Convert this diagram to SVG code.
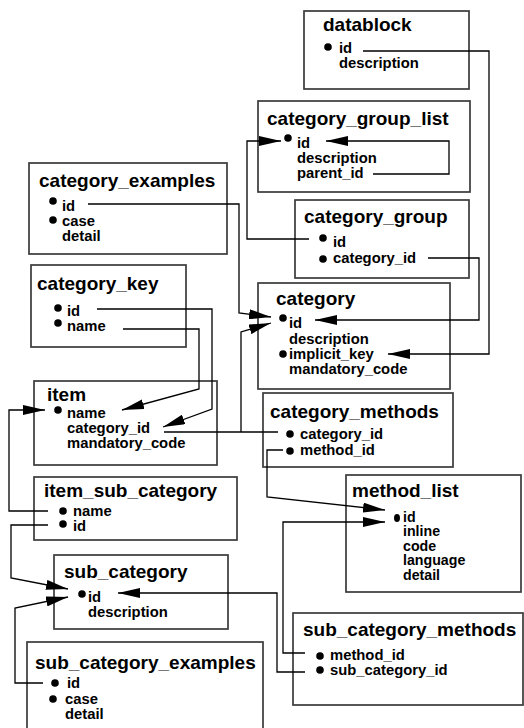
<svg xmlns="http://www.w3.org/2000/svg" width="524" height="728" viewBox="0 0 524 728">
<defs>
<style>
.box{fill:#fff;stroke:#3a3a3a;stroke-width:1.7}
.t{font-family:"Liberation Sans",Arial,Helvetica,sans-serif;font-weight:bold;font-size:19px;fill:#000}
.f{font-family:"Liberation Sans",Arial,Helvetica,sans-serif;font-weight:bold;font-size:14.8px;fill:#000}
.fs{font-size:14.2px}
.b{fill:#000}
.c{fill:none;stroke:#000;stroke-width:1.3}
.a{marker-end:url(#arr)}
</style>
<marker id="arr" viewBox="0 0 22 10" refX="22" refY="5" markerWidth="22" markerHeight="10" markerUnits="userSpaceOnUse" orient="auto">
<path d="M0,0 L22,5 L0,10 z" fill="#000"/>
</marker>
</defs>

<g id="datablock">
<rect class="box" x="304" y="11" width="165" height="78"/>
<text class="t" x="323" y="31">datablock</text>
<circle class="b" cx="328" cy="47" r="3.8"/>
<text class="f" x="339" y="53">id</text>
<text class="f" x="339" y="68">description</text>
</g>

<g id="category_group_list">
<rect class="box" x="258" y="101" width="212" height="91"/>
<text class="t" x="267" y="125">category_group_list</text>
<circle class="b" cx="288" cy="138" r="3.8"/>
<text class="f" x="297" y="148">id</text>
<text class="f" x="297" y="163">description</text>
<text class="f" x="297" y="178">parent_id</text>
</g>

<g id="category_examples">
<rect class="box" x="29" y="163" width="198" height="91"/>
<text class="t" x="39" y="187">category_examples</text>
<circle class="b" cx="53" cy="201" r="3.8"/>
<circle class="b" cx="53" cy="220" r="3.8"/>
<text class="f" x="62" y="211">id</text>
<text class="f" x="62" y="226">case</text>
<text class="f" x="62" y="241">detail</text>
</g>

<g id="category_group">
<rect class="box" x="295" y="200" width="174" height="78"/>
<text class="t" x="304" y="223">category_group</text>
<circle class="b" cx="323" cy="238" r="3.8"/>
<circle class="b" cx="323" cy="259" r="3.8"/>
<text class="f" x="333" y="247">id</text>
<text class="f" x="333" y="263">category_id</text>
</g>

<g id="category_key">
<rect class="box" x="31" y="265" width="155" height="82"/>
<text class="t" x="37" y="290">category_key</text>
<circle class="b" cx="58" cy="308" r="3.8"/>
<circle class="b" cx="58" cy="323" r="3.8"/>
<text class="f" x="67" y="316">id</text>
<text class="f" x="67" y="331">name</text>
</g>

<g id="category">
<rect class="box" x="258" y="283" width="192" height="106"/>
<text class="t" x="276" y="305">category</text>
<circle class="b" cx="283" cy="318" r="3.8"/>
<circle class="b" cx="283" cy="354" r="3.8"/>
<text class="f" x="289" y="328">id</text>
<text class="f" x="289" y="344">description</text>
<text class="f" x="289" y="359">implicit_key</text>
<text class="f" x="289" y="374">mandatory_code</text>
</g>

<g id="item">
<rect class="box" x="34" y="381" width="183" height="84"/>
<text class="t" x="47" y="401">item</text>
<circle class="b" cx="58" cy="410" r="3.8"/>
<text class="f" x="67" y="418">name</text>
<text class="f" x="67" y="433">category_id</text>
<text class="f" x="67" y="448">mandatory_code</text>
</g>

<g id="category_methods">
<rect class="box" x="263" y="393" width="190" height="74"/>
<text class="t" x="270" y="418">category_methods</text>
<circle class="b" cx="290" cy="434" r="3.8"/>
<circle class="b" cx="290" cy="451" r="3.8"/>
<text class="f" x="300" y="439">category_id</text>
<text class="f" x="300" y="455">method_id</text>
</g>

<g id="method_list">
<rect class="box" x="346" y="475" width="175" height="117"/>
<text class="t" x="352" y="497">method_list</text>
<ellipse class="b" cx="397" cy="518" rx="3" ry="4"/>
<text class="f fs" x="403" y="521.5">id</text>
<text class="f fs" x="403" y="536">inline</text>
<text class="f fs" x="403" y="550.5">code</text>
<text class="f fs" x="403" y="565">language</text>
<text class="f fs" x="403" y="579.5">detail</text>
</g>

<g id="item_sub_category">
<rect class="box" x="34" y="477" width="203" height="63"/>
<text class="t" x="44" y="497">item_sub_category</text>
<circle class="b" cx="63" cy="511" r="3.8"/>
<circle class="b" cx="63" cy="524" r="3.8"/>
<text class="f" x="73" y="516">name</text>
<text class="f" x="73" y="531">id</text>
</g>

<g id="sub_category">
<rect class="box" x="54" y="555" width="174" height="74"/>
<text class="t" x="64" y="578">sub_category</text>
<circle class="b" cx="82" cy="594" r="3.8"/>
<text class="f" x="88" y="602">id</text>
<text class="f" x="88" y="617">description</text>
</g>

<g id="sub_category_methods">
<rect class="box" x="293" y="613" width="230" height="92"/>
<text class="t" x="303" y="636">sub_category_methods</text>
<circle class="b" cx="320" cy="656" r="3.8"/>
<circle class="b" cx="320" cy="670" r="3.8"/>
<text class="f" x="330" y="660">method_id</text>
<text class="f" x="330" y="675">sub_category_id</text>
</g>

<g id="sub_category_examples">
<rect class="box" x="27" y="642" width="236" height="100"/>
<text class="t" x="35" y="669">sub_category_examples</text>
<circle class="b" cx="55" cy="683" r="3.8"/>
<circle class="b" cx="53" cy="699" r="3.8"/>
<text class="f" x="67" y="688">id</text>
<text class="f" x="65" y="704">case</text>
<text class="f" x="65" y="719">detail</text>
</g>

<g id="connectors">
<path class="c a" d="M363,51 H489 V354 H388"/>
<path class="c a" d="M373,174 H449 V141 H326"/>
<path class="c a" d="M309,239 H247 V141 H281"/>
<path class="c a" d="M428,258 H479 V320 H315"/>
<path class="c a" d="M88,204 H239 V313 L271,317"/>
<path class="c" d="M278,432 H164"/>
<path class="c a" d="M241,432 V332 L271,323"/>
<path class="c a" d="M97,309 H212 V409 L163,427"/>
<path class="c a" d="M123,329 H199 V389 L122,410"/>
<path class="c a" d="M48,511 H9 V410 H45"/>
<path class="c a" d="M48,525 H11 V578 L68,589"/>
<path class="c a" d="M43,683 H15 V608 L68,597"/>
<path class="c a" d="M305,672 H277 V593 H118"/>
<path class="c a" d="M305,653 H283 V522 H385"/>
<path class="c a" d="M283,450 H267 V497 L385,510"/>
</g>
</svg>
